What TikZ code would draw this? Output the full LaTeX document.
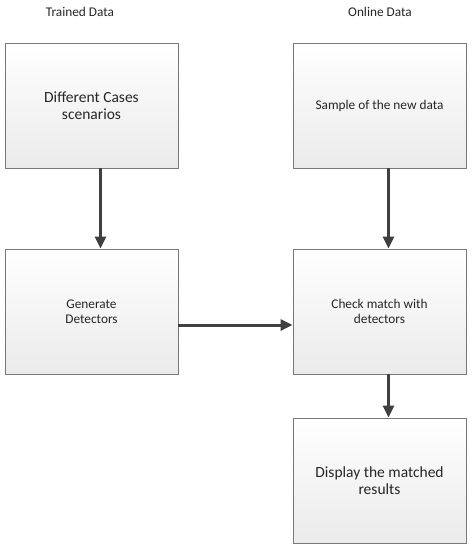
\documentclass[tikz,border=0pt]{standalone}
\usepackage{fontspec}
\setmainfont{Carlito}
\usepackage{tikz}
\usetikzlibrary{positioning,arrows.meta,shadows}

\definecolor{boxline}{RGB}{120,120,120}
\definecolor{flowcol}{RGB}{64,64,64}
\definecolor{txtcol}{RGB}{38,38,38}

\begin{document}
\begin{tikzpicture}[x=1pt,y=-1pt,
    box/.style={draw=boxline,line width=0.9pt,top color=white,bottom color=gray!16,
      minimum width=173pt,minimum height=125pt,align=center,text=txtcol,
      drop shadow={shadow xshift=1pt,shadow yshift=-1pt,opacity=0.25}},
    bigtxt/.style={font=\fontsize{15.5}{17.5}\selectfont},
    smalltxt/.style={font=\fontsize{13.3}{15.5}\selectfont},
    head/.style={text=txtcol,font=\fontsize{13.3}{15.5}\selectfont},
    flow/.style={draw=flowcol,line width=3pt,-{Triangle[length=12pt,width=11pt]}}]
      \useasboundingbox (0,0) rectangle (474,550);
      % column titles
      \node[head] (trained) at (80,12) {Trained Data};
      \node[head] (online) at (380,12) {Online Data};
      % boxes
      \node[box,bigtxt] (cases) at (91.5,105.5) {Different Cases\\scenarios};
      \node[box,smalltxt] (gen) at (91.5,311.5) {Generate\\Detectors};
      \node[box,smalltxt] (sample) at (379.5,105.5) {Sample of the new data};
      \node[box,smalltxt] (check) at (379.5,311.5) {Check match with\\detectors};
      \node[box,bigtxt] (show) at (379.5,480.5) {Display the matched\\results};
      % connectors
      \draw[flow] ([xshift=9pt]cases.south) -- ([xshift=9pt]gen.north);
      \draw[flow] ([xshift=9pt]sample.south) -- ([xshift=9pt]check.north);
      \draw[flow] ([yshift=-13.5pt]gen.east) -- ([yshift=-13.5pt]check.west);
      \draw[flow] ([xshift=9pt]check.south) -- ([xshift=9pt]show.north);
    \end{tikzpicture}
\end{document}
